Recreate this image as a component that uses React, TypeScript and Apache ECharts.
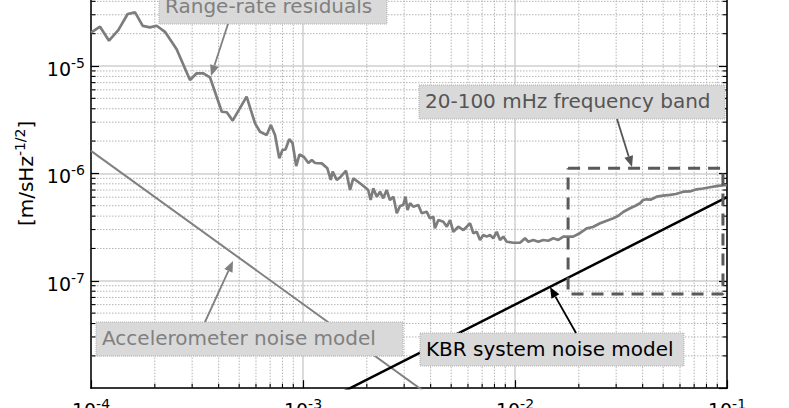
import React, { useEffect, useRef } from "react";
import * as echarts from "echarts";

// Range-rate residuals (frequency [Hz], amplitude [m/sHz^-1/2])
const freq = [
  1.0e-4, 1.103e-4, 1.216e-4, 1.345e-4, 1.489e-4, 1.614e-4, 1.754e-4, 1.897e-4, 2.04e-4, 2.233e-4,
  2.535e-4, 2.93e-4, 3.15e-4, 3.39e-4, 3.64e-4, 4.14e-4, 4.37e-4, 4.66e-4, 5.42e-4, 5.94e-4,
  6.27e-4, 6.74e-4, 7.05e-4, 7.38e-4, 7.73e-4, 8.0e-4, 8.27e-4, 8.61e-4, 8.93e-4, 9.29e-4,
  9.63e-4, 1.011e-3, 1.06e-3, 1.1e-3, 1.14e-3, 1.226e-3, 1.303e-3, 1.352e-3, 1.38e-3, 1.443e-3,
  1.507e-3, 1.596e-3, 1.667e-3, 1.727e-3, 1.857e-3, 1.96e-3, 2.03e-3, 2.085e-3, 2.146e-3, 2.228e-3,
  2.31e-3, 2.39e-3, 2.48e-3, 2.57e-3, 2.67e-3, 2.77e-3, 2.87e-3, 2.97e-3, 3.045e-3, 3.11e-3,
  3.2e-3, 3.31e-3, 3.5e-3, 3.63e-3, 3.83e-3, 3.97e-3, 4.12e-3, 4.19e-3, 4.35e-3, 4.59e-3,
  4.77e-3, 4.94e-3, 5.12e-3, 5.4e-3, 5.71e-3, 5.92e-3, 6.14e-3, 6.36e-3, 6.6e-3, 6.84e-3,
  7.09e-3, 7.35e-3, 7.62e-3, 7.9e-3, 8.2e-3, 8.5e-3, 8.81e-3, 9.14e-3, 9.82e-3, 1.056e-2,
  1.115e-2, 1.156e-2, 1.22e-2, 1.288e-2, 1.36e-2, 1.435e-2, 1.517e-2, 1.6e-2, 1.69e-2, 1.78e-2,
  1.88e-2, 2.03e-2, 2.18e-2, 2.33e-2, 2.52e-2, 2.69e-2, 2.91e-2, 3.06e-2, 3.25e-2, 3.49e-2,
  3.68e-2, 3.89e-2, 4.02e-2, 4.18e-2, 4.38e-2, 4.66e-2, 4.99e-2, 5.38e-2, 5.74e-2, 6.22e-2,
  6.68e-2, 7.19e-2, 7.71e-2, 8.32e-2, 9.08e-2, 9.97e-2,
];
const residual = [
  2.04e-5, 2.32e-5, 1.72e-5, 2.16e-5, 3.05e-5, 3.16e-5, 2.36e-5, 2.29e-5, 2.37e-5, 2.08e-5,
  1.43e-5, 7.41e-6, 8.55e-6, 8.55e-6, 7.85e-6, 3.75e-6, 3.71e-6, 3.1e-6, 5.18e-6, 2.92e-6,
  2.44e-6, 2.28e-6, 2.82e-6, 2.28e-6, 1.38e-6, 1.65e-6, 1.67e-6, 2.08e-6, 1.91e-6, 1.17e-6,
  1.5e-6, 1.42e-6, 1.25e-6, 1.33e-6, 1.25e-6, 1.24e-6, 1.115e-6, 8.69e-7, 1.04e-6, 8.69e-7,
  9.31e-7, 1.06e-6, 7.01e-7, 9.0e-7, 8.09e-7, 7.43e-7, 7.01e-7, 5.65e-7, 7.26e-7, 6.07e-7,
  6.76e-7, 5.86e-7, 7.01e-7, 5.65e-7, 6.07e-7, 4.25e-7, 4.97e-7, 5.08e-7, 6.07e-7, 4.56e-7,
  5.27e-7, 4.9e-7, 5.08e-7, 4.25e-7, 4.4e-7, 3.82e-7, 3.95e-7, 3.08e-7, 3.68e-7, 3.55e-7,
  3.19e-7, 3.68e-7, 2.86e-7, 3.19e-7, 2.97e-7, 3.19e-7, 3.43e-7, 2.77e-7, 2.86e-7, 2.4e-7,
  2.67e-7, 2.58e-7, 2.67e-7, 2.49e-7, 2.86e-7, 2.4e-7, 2.58e-7, 2.31e-7, 2.26e-7, 2.26e-7,
  2.49e-7, 2.31e-7, 2.4e-7, 2.31e-7, 2.4e-7, 2.36e-7, 2.49e-7, 2.4e-7, 2.58e-7, 2.58e-7,
  2.58e-7, 2.79e-7, 3.08e-7, 3.17e-7, 3.43e-7, 3.61e-7, 3.82e-7, 4.01e-7, 4.4e-7, 4.73e-7,
  4.97e-7, 5.27e-7, 5.65e-7, 5.74e-7, 5.71e-7, 6.07e-7, 6.22e-7, 6.3e-7, 6.43e-7, 6.76e-7,
  6.79e-7, 7.11e-7, 7.23e-7, 7.43e-7, 7.64e-7, 7.8e-7,
];

// Accelerometer noise model
const accelFreq = [1e-4, 1e-2];
const accelVal = [1.62e-6, 2.28e-9];

// KBR system noise model
const kbrFreq = [1e-3, 1e-1];
const kbrVal = [6.0e-9, 6.0e-7];

// 20-100 mHz frequency band rectangle
const bandFreq = [0.0178, 0.0957, 0.0957, 0.0178, 0.0178];
const bandVal = [1.115e-6, 1.115e-6, 7.53e-8, 7.53e-8, 1.115e-6];

// axes
const xMin = 1e-4;
const xMax = 1e-1;
const yMin = 1e-8;
const yMax = 1e-4;
const xDecades = [-4, -3, -2];
const yDecades = [-8, -7, -6, -5];
const minorMult = [2, 3, 4, 5, 6, 7, 8, 9];

const yName = "[m/sHz";
const yNameSup = "-1/2";

const annotations = [
  { text: "Range-rate residuals", x: 159, y: -10, w: 228, h: 34, color: "#808080", size: 20 },
  { text: "20-100 mHz frequency band", x: 419, y: 85, w: 306, h: 34, color: "#555555", size: 20 },
  { text: "Accelerometer noise model", x: 96, y: 322, w: 307, h: 34, color: "#808080", size: 20 },
  { text: "KBR system noise model", x: 420, y: 333, w: 264, h: 33, color: "#000000", size: 20 },
];
const arrows = [
  { from: [228, 24], to: [211, 76], color: "#808080" },
  { from: [617, 119], to: [632, 167], color: "#555555" },
  { from: [205, 322], to: [233, 261], color: "#808080" },
  { from: [576, 333], to: [550, 287], color: "#000000" },
];

const FONT = "DejaVu Sans";

const rich = {
  b: { fontSize: 19, fontFamily: FONT, color: "#000", padding: [6, 0, 0, 0] },
  s: { fontSize: 14, fontFamily: FONT, color: "#000", padding: [0, 0, 6, 0] },
};
const nameRich = {
  b: { fontSize: 20, fontFamily: FONT, color: "#000", padding: [6, 0, 0, 0] },
  s: { fontSize: 14, fontFamily: FONT, color: "#000", padding: [0, 0, 6, 0] },
};

const powLabel = (v: number) => {
  const e = Math.round(Math.log10(v));
  return `{b|10}{s|${e}}`;
};

function buildArrow(a: { from: number[]; to: number[]; color: string }) {
  const [x1, y1] = a.from;
  const [x2, y2] = a.to;
  const dx = x2 - x1;
  const dy = y2 - y1;
  const len = Math.sqrt(dx * dx + dy * dy);
  const ux = dx / len;
  const uy = dy / len;
  const head = 11;
  const hw = 4.5;
  const bx = x2 - ux * head;
  const by = y2 - uy * head;
  const nx = -uy;
  const ny = ux;
  return [
    {
      type: "line",
      z: 100,
      shape: { x1, y1, x2: bx, y2: by },
      style: { stroke: a.color, lineWidth: 1.8 },
    },
    {
      type: "polygon",
      z: 100,
      shape: {
        points: [
          [x2, y2],
          [bx + nx * hw, by + ny * hw],
          [bx - nx * hw, by - ny * hw],
        ],
      },
      style: { fill: a.color },
    },
  ];
}

export default function App() {
  const ref = useRef<HTMLDivElement>(null);
  useEffect(() => {
    const chart = echarts.init(ref.current!, null, { renderer: "svg" });

    const minorX: number[] = [];
    xDecades.forEach((d) => minorMult.forEach((m) => minorX.push(m * Math.pow(10, d))));
    const minorY: number[] = [];
    yDecades.forEach((d) => minorMult.forEach((m) => minorY.push(m * Math.pow(10, d))));

    const graphic: any[] = [];
    annotations.forEach((a) => {
      graphic.push({
        type: "rect",
        z: 90,
        shape: { x: a.x, y: a.y, width: a.w, height: a.h },
        style: { fill: "#d9d9d9", stroke: "#b0b0b0", lineWidth: 1, lineDash: [1, 1] },
      });
      graphic.push({
        type: "text",
        z: 91,
        x: a.x + 6,
        y: a.y + a.h / 2 - 1,
        style: {
          text: a.text,
          fill: a.color,
          font: `${a.size}px "${FONT}"`,
          textAlign: "left",
          textVerticalAlign: "middle",
        },
      });
    });
    arrows.forEach((a) => buildArrow(a).forEach((g) => graphic.push(g)));

    const axisCommon = {
      type: "log",
      logBase: 10,
      interval: 1,
      axisLine: { show: true, onZero: false, lineStyle: { color: "#000", width: 1.5 } },
      axisTick: { show: true, inside: true, length: 8, lineStyle: { color: "#000", width: 1.2 } },
      splitLine: { show: true, lineStyle: { color: "#cfcfcf", width: 1.5 } },
      minorTick: { show: false },
      minorSplitLine: { show: false },
    };

    const option: any = {
      animation: false,
      backgroundColor: "#fff",
      grid: {
        left: 91,
        right: 62,
        top: -41.4,
        bottom: 19.8,
        containLabel: false,
        outerBoundsMode: "none",
      },
      xAxis: {
        ...axisCommon,
        min: xMin,
        max: xMax,
        axisLabel: { formatter: powLabel, rich, margin: 6 },
      },
      yAxis: [
        {
          ...axisCommon,
          min: yMin,
          max: yMax,
          name: `{b|${yName}}{s|${yNameSup}}{b|]}`,
          nameLocation: "middle",
          nameRotate: 90,
          nameGap: 54,
          nameTextStyle: { fontSize: 20, fontFamily: FONT, rich: nameRich },
          axisLabel: {
            formatter: powLabel,
            rich,
            margin: 6,
            showMinLabel: false,
            showMaxLabel: false,
          },
        },
        {
          ...axisCommon,
          position: "right",
          min: yMin,
          max: yMax,
          splitLine: { show: false },
          axisLabel: { show: false },
        },
      ],
      graphic,
      series: [
        {
          type: "custom",
          coordinateSystem: "cartesian2d",
          silent: true,
          z: 1,
          data: minorX.map((v) => [v, 1e-6]),
          renderItem: (params: any, api: any) => {
            const cs = params.coordSys;
            const p = api.coord([api.value(0), api.value(1)]);
            const x = p[0];
            const bottom = cs.y + cs.height;
            return {
              type: "group",
              children: [
                {
                  type: "line",
                  shape: { x1: x, y1: cs.y, x2: x, y2: bottom },
                  style: { stroke: "#b4b4b4", lineWidth: 1, lineDash: [1.5, 1.5] },
                },
                {
                  type: "line",
                  shape: { x1: x, y1: bottom, x2: x, y2: bottom - 4.5 },
                  style: { stroke: "#000", lineWidth: 1.1 },
                },
              ],
            };
          },
        },
        {
          type: "custom",
          coordinateSystem: "cartesian2d",
          silent: true,
          z: 1,
          data: minorY.map((v) => [1e-3, v]),
          renderItem: (params: any, api: any) => {
            const cs = params.coordSys;
            const p = api.coord([api.value(0), api.value(1)]);
            const y = p[1];
            const right = cs.x + cs.width;
            return {
              type: "group",
              children: [
                {
                  type: "line",
                  shape: { x1: cs.x, y1: y, x2: right, y2: y },
                  style: { stroke: "#b4b4b4", lineWidth: 1, lineDash: [1.5, 1.5] },
                },
                {
                  type: "line",
                  shape: { x1: cs.x, y1: y, x2: cs.x + 4.5, y2: y },
                  style: { stroke: "#000", lineWidth: 1.1 },
                },
                {
                  type: "line",
                  shape: { x1: right, y1: y, x2: right - 4.5, y2: y },
                  style: { stroke: "#000", lineWidth: 1.1 },
                },
              ],
            };
          },
        },
        {
          name: "Range-rate residuals",
          type: "line",
          z: 3,
          symbol: "none",
          data: freq.map((f, i) => [f, residual[i]]),
          lineStyle: { color: "#7d7d7d", width: 2.7 },
          clip: true,
        },
        {
          name: "Accelerometer noise model",
          type: "line",
          z: 3,
          symbol: "none",
          data: accelFreq.map((f, i) => [f, accelVal[i]]),
          lineStyle: { color: "#808080", width: 2 },
          clip: true,
        },
        {
          name: "KBR system noise model",
          type: "line",
          z: 3,
          symbol: "none",
          data: kbrFreq.map((f, i) => [f, kbrVal[i]]),
          lineStyle: { color: "#000000", width: 2.5 },
          clip: true,
        },
        {
          name: "20-100 mHz frequency band",
          type: "line",
          z: 4,
          symbol: "none",
          data: bandFreq.map((f, i) => [f, bandVal[i]]),
          lineStyle: { color: "#5a5a5a", width: 3, type: [12, 8] },
          clip: true,
        },
      ],
    };

    chart.setOption(option);
    return () => chart.dispose();
  }, []);
  return (
    <div
      ref={ref}
      style={{ position: "fixed", left: 0, top: 0, width: 789, height: 408, background: "#fff" }}
    />
  );
}
